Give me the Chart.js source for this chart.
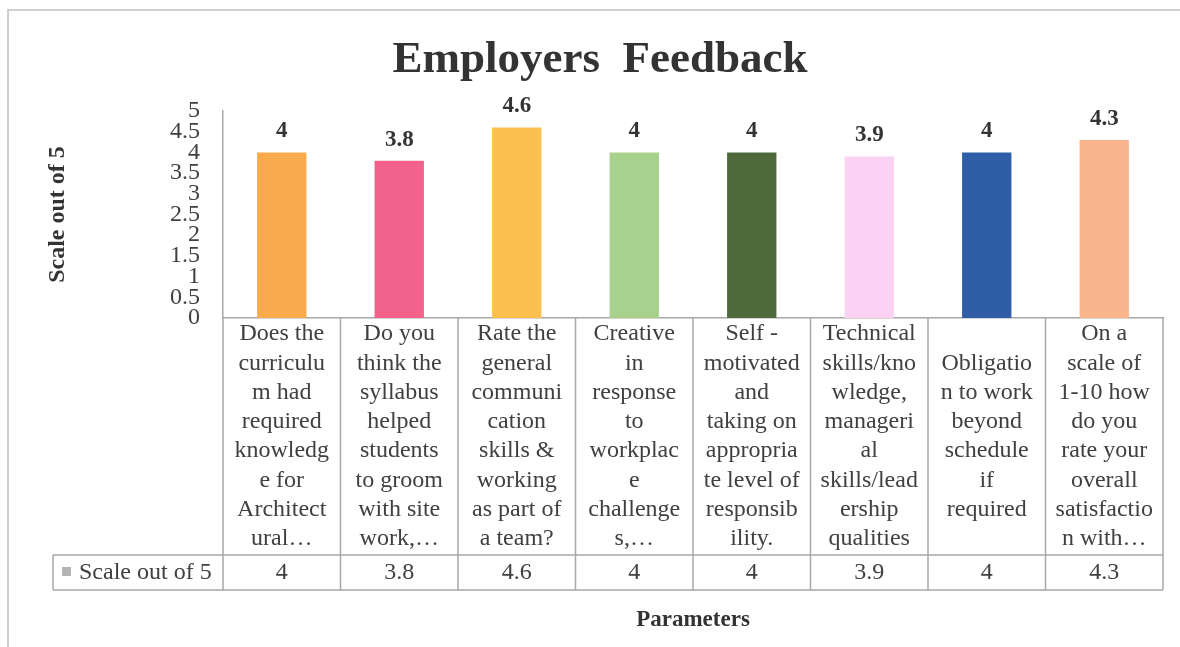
<!DOCTYPE html>
<html>
<head>
<meta charset="utf-8">
<title>Employers Feedback</title>
<script src="https://cdn.jsdelivr.net/npm/chart.js@4/dist/chart.umd.min.js"></script>
<style>
  body { margin: 0; background: #ffffff; }
  #feedbackChart { display: block; }
</style>
</head>
<body>
<canvas id="feedbackChart" width="1180" height="647"></canvas>
<script>
// Category labels, line breaks kept as in the original table
const categories = [
    ['Does the', 'curriculu', 'm had', 'required', 'knowledg', 'e for', 'Architect', 'ural\u2026'],
    ['Do you', 'think the', 'syllabus', 'helped', 'students', 'to groom', 'with site', 'work,\u2026'],
    ['Rate the', 'general', 'communi', 'cation', 'skills &', 'working', 'as part of', 'a team?'],
    ['Creative', 'in', 'response', 'to', 'workplac', 'e', 'challenge', 's,\u2026'],
    ['Self -', 'motivated', 'and', 'taking on', 'appropria', 'te level of', 'responsib', 'ility.'],
    ['Technical', 'skills/kno', 'wledge,', 'manageri', 'al', 'skills/lead', 'ership', 'qualities'],
    ['Obligatio', 'n to work', 'beyond', 'schedule', 'if', 'required'],
    ['On a', 'scale of', '1-10 how', 'do you', 'rate your', 'overall', 'satisfactio', 'n with\u2026']
];
const seriesName = 'Scale out of 5';
const scores = [4, 3.8, 4.6, 4, 4, 3.9, 4, 4.3];
const barColors = ['#F9AA4C', '#F2628A', '#FCC04E', '#A9D18E', '#4E6A3A', '#FBD2F3', '#2F5DA6', '#F9B58B'];

const serif = "'Liberation Serif', 'Times New Roman', serif";
const textColor = '#404040';
const lineColor = '#a8a8a8';

// value labels above each bar
const valueLabels = {
    id: 'valueLabels',
    afterDatasetsDraw(chart) {
        const ctx = chart.ctx;
        const meta = chart.getDatasetMeta(0);
        ctx.save();
        ctx.font = 'bold 23px ' + serif;
        ctx.fillStyle = '#333333';
        ctx.textAlign = 'center';
        ctx.textBaseline = 'middle';
        meta.data.forEach((bar, i) => {
            ctx.fillText(String(scores[i]), bar.x, bar.y - 21);
        });
        ctx.restore();
    }
};

// data table under the plot (Excel style)
const dataTable = {
    id: 'dataTable',
    afterDraw(chart) {
        const ctx = chart.ctx;
        const x = chart.scales.x;
        const area = chart.chartArea;
        const step = x.getPixelForValue(1) - x.getPixelForValue(0);
        const top = area.bottom;
        const rowY = 555;
        const bottom = 590;
        const headLeft = 53;

        ctx.save();
        ctx.strokeStyle = lineColor;
        ctx.lineWidth = 1.5;
        ctx.beginPath();
        for (let i = 0; i <= categories.length; i++) {
            const bx = x.getPixelForValue(0) - step / 2 + i * step;
            ctx.moveTo(bx, top);
            ctx.lineTo(bx, bottom);
        }
        ctx.moveTo(headLeft, rowY);
        ctx.lineTo(area.right, rowY);
        ctx.moveTo(headLeft, bottom);
        ctx.lineTo(area.right, bottom);
        ctx.moveTo(headLeft, rowY);
        ctx.lineTo(headLeft, bottom);
        ctx.stroke();

        // category text, centred in the cell
        ctx.font = '24px ' + serif;
        ctx.fillStyle = textColor;
        ctx.textAlign = 'center';
        ctx.textBaseline = 'middle';
        const lh = 29.3;
        const mid = (top + rowY) / 2;
        categories.forEach((lines, i) => {
            const cx = x.getPixelForValue(i);
            const y0 = mid - (lines.length - 1) * lh / 2;
            lines.forEach((t, k) => ctx.fillText(t, cx, y0 + k * lh));
            ctx.fillText(String(scores[i]), cx, (rowY + bottom) / 2);
        });

        // series header cell
        ctx.fillStyle = '#b4b4b4';
        ctx.fillRect(62, 567, 9, 9);
        ctx.fillStyle = textColor;
        ctx.textAlign = 'left';
        ctx.fillText(seriesName, 79, (rowY + bottom) / 2);

        // outer frame
        ctx.strokeStyle = '#cfcfcf';
        ctx.lineWidth = 2;
        ctx.beginPath();
        ctx.moveTo(8, 660);
        ctx.lineTo(8, 10);
        ctx.lineTo(1190, 10);
        ctx.stroke();
        ctx.restore();
    }
};

new Chart(document.getElementById('feedbackChart').getContext('2d'), {
    type: 'bar',
    data: {
        labels: categories,
        datasets: [{
            label: seriesName,
            data: scores,
            backgroundColor: barColors,
            borderWidth: 0,
            barPercentage: 0.42,
            categoryPercentage: 1
        }]
    },
    options: {
        responsive: false,
        animation: false,
        layout: {
            padding: { left: 37, right: 17, top: 0, bottom: 0 }
        },
        scales: {
            y: {
                min: 0,
                max: 5,
                afterFit(scale) { scale.width = 186; },
                title: {
                    display: true,
                    text: 'Scale out of 5',
                    color: '#333333',
                    font: { family: serif, size: 24, weight: 'bold' },
                    padding: { top: 6, bottom: 0 }
                },
                ticks: {
                    stepSize: 0.5,
                    autoSkip: false,
                    padding: 23,
                    color: textColor,
                    font: { family: serif, size: 24 },
                    callback: (v) => String(v)
                },
                grid: { display: false, drawTicks: false },
                border: { display: true, color: lineColor, width: 1.5 }
            },
            x: {
                afterFit(scale) { scale.height = 329; },
                title: {
                    display: true,
                    text: 'Parameters',
                    color: '#333333',
                    font: { family: serif, size: 23, weight: 'bold' },
                    padding: { top: 0, bottom: 13 }
                },
                ticks: { display: false },
                grid: { display: false, drawTicks: false },
                border: { display: true, color: lineColor, width: 1.5 }
            }
        },
        plugins: {
            legend: { display: false },
            tooltip: { enabled: false },
            title: {
                display: true,
                text: 'Employers  Feedback',
                color: '#333333',
                font: { family: serif, size: 45, weight: 'bold' },
                padding: { top: 33, bottom: 24 }
            }
        }
    },
    plugins: [valueLabels, dataTable]
});
</script>
</body>
</html>
